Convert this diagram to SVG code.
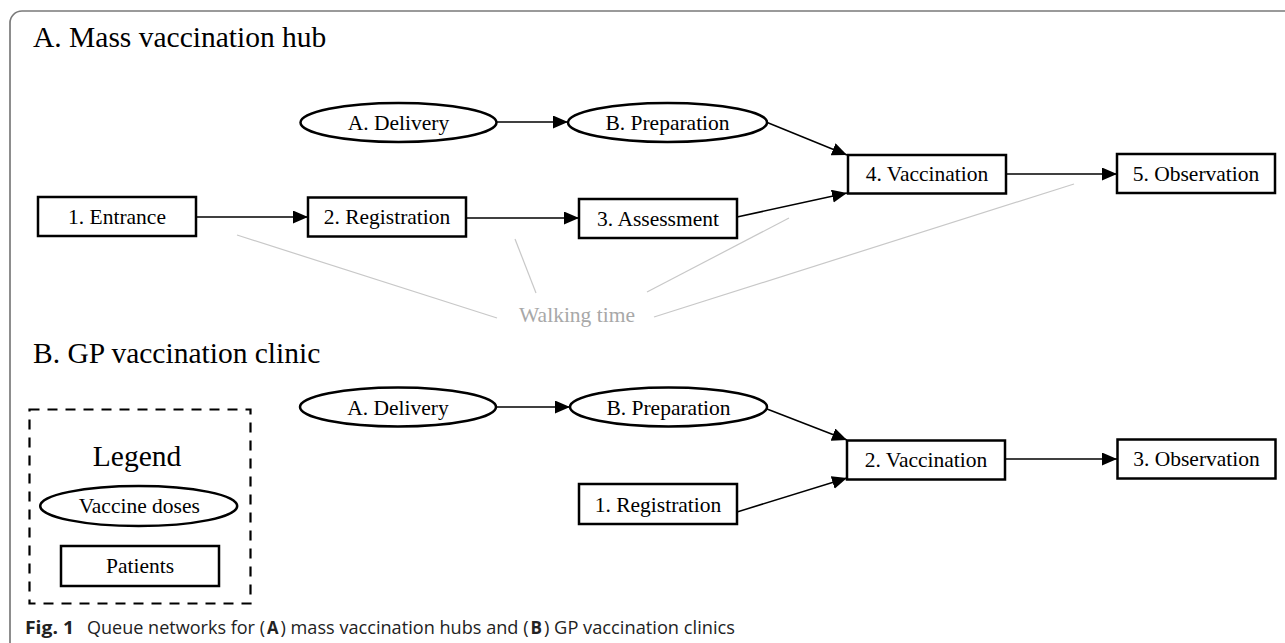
<svg xmlns="http://www.w3.org/2000/svg" width="1285" height="643" viewBox="0 0 1285 643">
<style>
.frame{fill:none;stroke:#7a7a7a;stroke-width:1.7}
.box{fill:#fff;stroke:#000;stroke-width:2.5}
.ell{fill:#fff;stroke:#000;stroke-width:2.5}
.lbl{font-family:"Liberation Serif","Times New Roman",serif;font-size:21.5px;fill:#000;text-anchor:middle}
.title{font-family:"Liberation Serif","Times New Roman",serif;font-size:29.5px;fill:#000}
.edge{stroke:#000;stroke-width:1.5;fill:none;marker-end:url(#arr)}
.walk{stroke:#c8c8c8;stroke-width:1.2;fill:none}
.walkt{font-family:"Liberation Serif","Times New Roman",serif;font-size:21.5px;fill:#a8a8a8;text-anchor:middle}
.cap{font-family:"Open Sans","Noto Sans",sans-serif;font-size:18px;fill:#222}
.capb{font-family:"Open Sans","Noto Sans",sans-serif;font-size:18px;fill:#222;font-weight:bold}
</style>
<defs>
<marker id="arr" markerUnits="userSpaceOnUse" markerWidth="16" markerHeight="14" refX="15" refY="6.5" orient="auto">
<path d="M0,0 L15,6.5 L0,13 z" fill="#000"/>
</marker>
</defs>
<rect width="1285" height="643" fill="#fff"/>
<path class="frame" d="M1285,11 L22,11 A12,12 0 0 0 10,23 L10,643"/>
<text class="title" x="33" y="47">A. Mass vaccination hub</text>
<text class="title" x="33" y="363">B. GP vaccination clinic</text>

<g id="walking">
<line class="walk" x1="237" y1="235" x2="497" y2="318"/>
<line class="walk" x1="515" y1="239" x2="536" y2="293"/>
<line class="walk" x1="647" y1="292" x2="789" y2="218"/>
<line class="walk" x1="654" y1="317" x2="1074" y2="184"/>
<text class="walkt" x="577" y="322">Walking time</text>
</g>

<g id="connectors">
<line class="edge" x1="497" y1="122" x2="568" y2="122"/>
<line class="edge" x1="196" y1="217" x2="308" y2="217"/>
<line class="edge" x1="466" y1="218" x2="579" y2="218"/>
<line class="edge" x1="737" y1="217" x2="847" y2="193"/>
<line class="edge" x1="766" y1="122" x2="847" y2="155"/>
<line class="edge" x1="1006" y1="174" x2="1117" y2="174"/>
<line class="edge" x1="496" y1="407" x2="570" y2="407"/>
<line class="edge" x1="767" y1="409" x2="847" y2="440"/>
<line class="edge" x1="737" y1="512" x2="847" y2="478"/>
<line class="edge" x1="1005" y1="459" x2="1117" y2="459"/>
</g>

<g id="a-delivery"><ellipse class="ell" cx="398.5" cy="122.5" rx="98" ry="19.5"/><text class="lbl" x="398.5" y="130">A. Delivery</text></g>
<g id="a-preparation"><ellipse class="ell" cx="667.5" cy="122.5" rx="99.5" ry="19.5"/><text class="lbl" x="667.5" y="130">B. Preparation</text></g>
<g id="a-entrance"><rect class="box" x="38" y="197" width="158" height="39"/><text class="lbl" x="117" y="223.5">1. Entrance</text></g>
<g id="a-registration"><rect class="box" x="308" y="197.5" width="158" height="39"/><text class="lbl" x="387" y="224">2. Registration</text></g>
<g id="a-assessment"><rect class="box" x="579" y="199" width="158" height="39"/><text class="lbl" x="658" y="225.5">3. Assessment</text></g>
<g id="a-vaccination"><rect class="box" x="848" y="155" width="158" height="38.5"/><text class="lbl" x="927" y="181">4. Vaccination</text></g>
<g id="a-observation"><rect class="box" x="1117" y="154" width="158" height="39"/><text class="lbl" x="1196" y="180.5">5. Observation</text></g>

<g id="b-delivery"><ellipse class="ell" cx="398" cy="407" rx="98" ry="19.5"/><text class="lbl" x="398" y="414.5">A. Delivery</text></g>
<g id="b-preparation"><ellipse class="ell" cx="668.5" cy="407" rx="98.5" ry="19.5"/><text class="lbl" x="668.5" y="414.5">B. Preparation</text></g>
<g id="b-registration"><rect class="box" x="579" y="484" width="158" height="40"/><text class="lbl" x="658" y="511.5">1. Registration</text></g>
<g id="b-vaccination"><rect class="box" x="847" y="440.5" width="158" height="39"/><text class="lbl" x="926" y="467">2. Vaccination</text></g>
<g id="b-observation"><rect class="box" x="1117.5" y="439.5" width="158" height="39"/><text class="lbl" x="1196.5" y="466">3. Observation</text></g>

<g id="legend">
<rect x="29.5" y="409.5" width="221" height="194" fill="none" stroke="#000" stroke-width="2.2" stroke-dasharray="10 8"/>
<text class="title" x="137" y="466" text-anchor="middle">Legend</text>
<ellipse class="ell" cx="138.7" cy="506" rx="98.5" ry="20"/>
<text class="lbl" x="139.3" y="513">Vaccine doses</text>
<rect class="box" x="61" y="546" width="158" height="40" stroke-width="2"/>
<text class="lbl" x="140" y="573">Patients</text>
</g>

<g id="caption">
<text class="capb" x="25" y="634" textLength="49" lengthAdjust="spacingAndGlyphs">Fig. 1</text>
<text class="cap" x="87" y="634" textLength="178" lengthAdjust="spacingAndGlyphs">Queue networks for (</text>
<text class="capb" x="267" y="634" textLength="11.5" lengthAdjust="spacingAndGlyphs">A</text>
<text class="cap" x="280.5" y="634" textLength="248" lengthAdjust="spacingAndGlyphs">) mass vaccination hubs and (</text>
<text class="capb" x="530.5" y="634" textLength="11.5" lengthAdjust="spacingAndGlyphs">B</text>
<text class="cap" x="544" y="634" textLength="191" lengthAdjust="spacingAndGlyphs">) GP vaccination clinics</text>
</g>
</svg>
